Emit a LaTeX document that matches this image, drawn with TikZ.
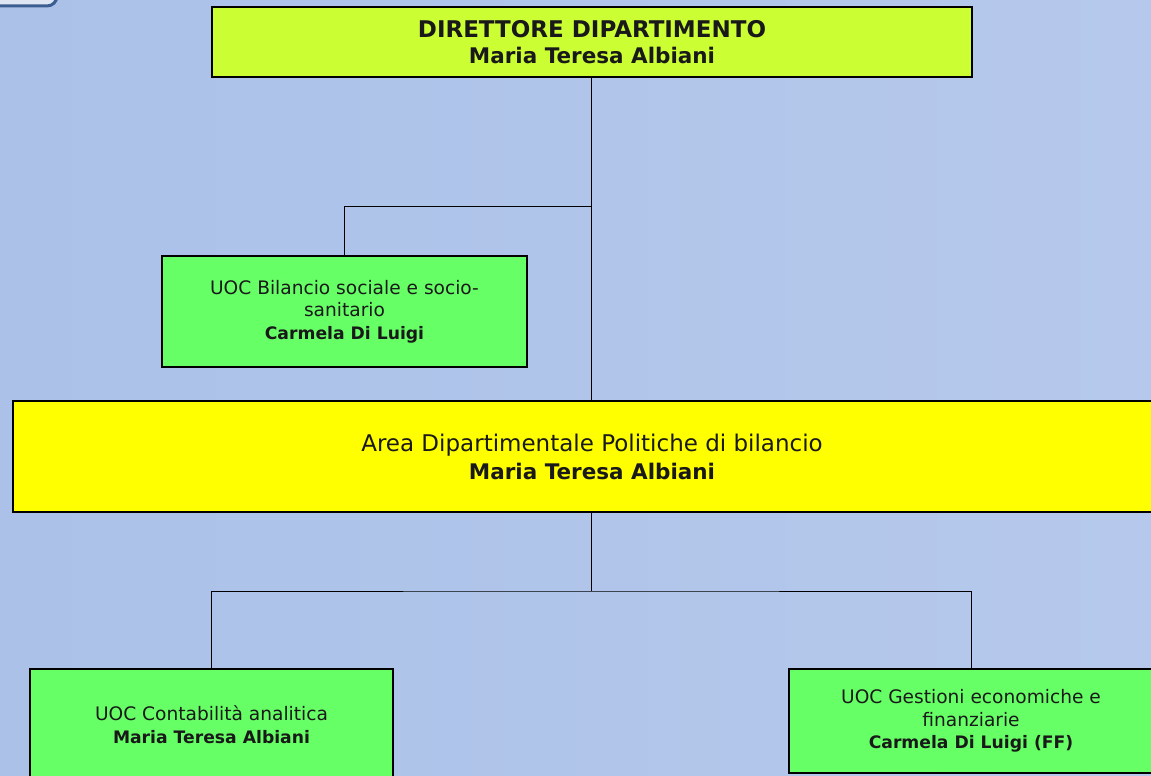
\documentclass[tikz,border=0pt]{standalone}
\usepackage{fontspec}
\setmainfont{DejaVu Sans}
\begin{document}
\begin{tikzpicture}[x=1pt,y=-1pt,
  box/.style={draw=black,line width=1.3pt,rectangle,inner sep=0pt,align=center,text=black!90},
  conn/.style={draw=black,line width=1pt},
  smallfont/.style={font=\fontsize{18.6}{22.5}\selectfont},
  bigfont/.style={font=\fontsize{23}{28}\selectfont}
]
\definecolor{bgA}{HTML}{ABC1E8}
\definecolor{bgB}{HTML}{B6C9EC}
\definecolor{dirc}{HTML}{CCFF33}
\definecolor{uocc}{HTML}{66FF66}
\definecolor{areac}{HTML}{FFFF00}
\definecolor{tabb}{HTML}{3B5E92}
\definecolor{tabf}{HTML}{DDE6F2}
\useasboundingbox (0,0) rectangle (1151,776);
\clip (0,0) rectangle (1151,776);
\shade[shading angle=135, left color=bgA, right color=bgB] (-1,-1) rectangle (1152,777);
\draw[tabb, line width=3pt, fill=tabf, rounded corners=10pt] (-30,-40) rectangle (57,6);
% boxes
\node[box, fill=dirc, minimum width=760pt, minimum height=70pt,
  font=\bfseries\fontsize{23}{26}\selectfont] (dir) at (592,42)
  {DIRETTORE DIPARTIMENTO\\{\fontsize{21.5}{26}\selectfont Maria Teresa Albiani}};
\node[box, fill=uocc, minimum width=365pt, minimum height=111pt, smallfont] (bil) at (344.5,311.5)
  {UOC Bilancio sociale e socio-\\sanitario\\{\bfseries\fontsize{17.2}{22.5}\selectfont Carmela Di Luigi}};
\node[box, fill=areac, minimum width=1158pt, minimum height=111pt, bigfont] (area) at (592,456.5)
  {Area Dipartimentale Politiche di bilancio\\{\bfseries\fontsize{21.5}{28}\selectfont Maria Teresa Albiani}};
\node[box, fill=uocc, minimum width=363pt, minimum height=111pt, smallfont] (cont) at (211.5,724.5)
  {UOC Contabilità analitica\\{\bfseries\fontsize{17.2}{22.5}\selectfont Maria Teresa Albiani}};
\node[box, fill=uocc, minimum width=364pt, minimum height=104pt, smallfont] (gest) at (971,721)
  {UOC Gestioni economiche e\\finanziarie\\{\bfseries\fontsize{17.2}{22.5}\selectfont Carmela Di Luigi (FF)}};
% connectors
\coordinate (j1) at (591,206);
\coordinate (j2) at (591,591);
\draw[conn] ([xshift=-1pt]dir.south) -- ([xshift=-1pt]area.north);
\draw[conn] (bil.north) |- (j1);
\draw[conn] ([xshift=-1pt]area.south) -- (j2);
\draw[conn] (cont.north) |- (j2) -| (gest.north);
\end{tikzpicture}
\end{document}
